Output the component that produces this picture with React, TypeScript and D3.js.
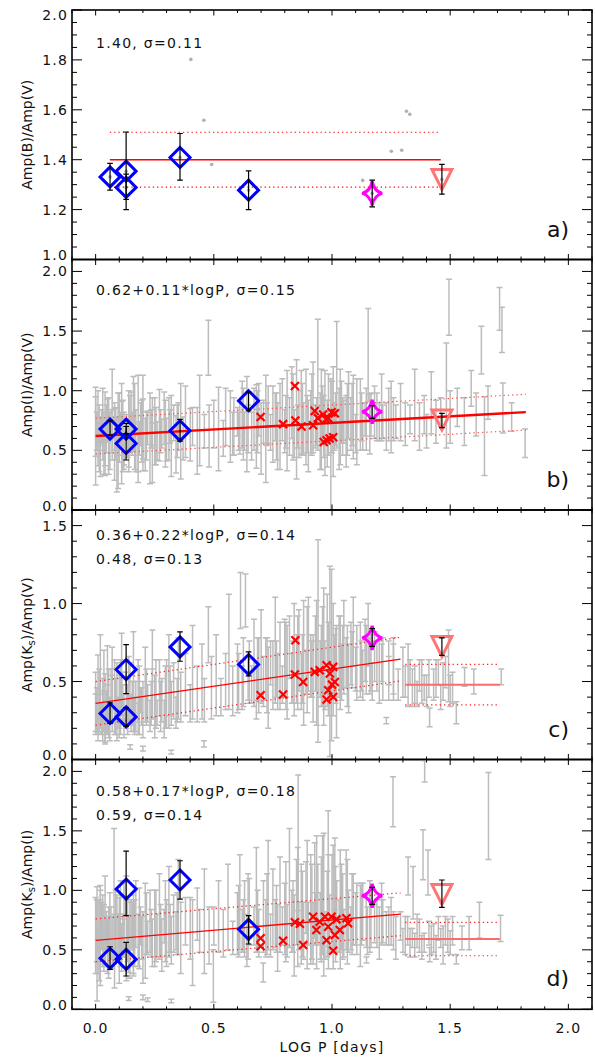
import React from 'react';
import * as d3 from 'd3';

// ---------- data ----------
const X_TICKS = [0, 0.5, 1.0, 1.5, 2.0];
const X_TITLE = 'LOG P [days]';

// panel a : Amp(B)/Amp(V)
const grayDotsBV: [number, number][] = [
  [0.061, 1.331], [0.129, 1.354], [0.129, 1.289], [0.357, 1.409], [0.647, 1.278],
  [0.403, 1.802], [0.458, 1.558], [0.491, 1.381], [1.13, 1.317], [1.251, 1.434],
  [1.295, 1.438], [1.315, 1.594], [1.329, 1.582], [1.17, 1.265], [1.465, 1.321],
];
const diamondsBV = [[0.061, 1.331, 1.278, 1.385], [0.129, 1.354, 1.2, 1.511], [0.129, 1.289, 1.241, 1.342], [0.357, 1.409, 1.318, 1.505], [0.647, 1.278, 1.2, 1.355]];
const starBV = [1.17, 1.265, 1.211, 1.318];
const triBV = [1.465, 1.321, 1.262, 1.381];

// panel b : Amp(I)/Amp(V)  [logP, value, error]
const grayIV: [number, number, number][] = [
  [0.00, 0.62, 0.41], [0.00, 0.70, 0.25], [0.01, 0.55, 0.18], [0.01, 0.78, 0.22], [0.02, 0.66, 0.12],
  [0.02, 0.48, 0.20], [0.03, 0.72, 0.30], [0.03, 0.60, 0.10], [0.04, 0.64, 0.35], [0.04, 0.52, 0.15],
  [0.05, 0.75, 0.18], [0.05, 0.68, 0.08], [0.06, 0.58, 0.24], [0.07, 0.80, 0.38], [0.07, 0.62, 0.14],
  [0.08, 0.55, 0.30], [0.08, 0.70, 0.20], [0.09, 0.45, 0.30], [0.09, 0.66, 0.12], [0.10, 0.72, 0.26],
  [0.10, 0.58, 0.18], [0.11, 0.64, 0.42], [0.11, 0.76, 0.15], [0.12, 0.60, 0.22], [0.12, 0.50, 0.16],
  [0.13, 0.70, 0.10], [0.14, 0.66, 0.34], [0.14, 0.56, 0.20], [0.15, 0.74, 0.25], [0.16, 0.62, 0.12],
  [0.16, 0.82, 0.30], [0.17, 0.58, 0.26], [0.18, 0.68, 0.45], [0.18, 0.52, 0.20], [0.19, 0.72, 0.18],
  [0.20, 0.63, 0.30], [0.20, 0.78, 0.35], [0.21, 0.55, 0.22], [0.22, 0.69, 0.14], [0.23, 0.60, 0.38],
  [0.24, 0.74, 0.20], [0.24, 0.48, 0.25], [0.25, 0.66, 0.28], [0.26, 0.58, 0.16], [0.27, 0.71, 0.30],
  [0.28, 0.64, 0.12], [0.29, 0.77, 0.22], [0.30, 0.59, 0.18], [0.31, 0.68, 0.26], [0.32, 0.62, 0.34],
  [0.33, 0.73, 0.15], [0.34, 0.55, 0.24], [0.35, 0.70, 0.20], [0.36, 0.66, 0.40], [0.37, 0.60, 0.18],
  [0.38, 0.74, 0.30], [0.40, 0.63, 0.22], [0.41, 0.70, 0.16], [0.43, 0.58, 0.28], [0.44, 0.75, 0.38],
  [0.46, 0.66, 0.14], [0.477, 1.36, 0.23], [0.48, 0.62, 0.26], [0.50, 0.72, 0.20], [0.52, 0.68, 0.35],
  [0.54, 0.60, 0.15], [0.55, 0.78, 0.24], [0.57, 0.70, 0.30], [0.58, 0.64, 0.18], [0.60, 0.74, 0.12],
  [0.61, 0.69, 0.22], [0.62, 0.80, 0.28], [0.63, 0.66, 0.16], [0.64, 0.72, 0.40], [0.66, 0.62, 0.20],
  [0.67, 0.76, 0.26], [0.68, 0.70, 0.35], [0.69, 0.84, 0.22], [0.70, 0.60, 0.30], [0.71, 0.74, 0.18],
  [0.72, 0.68, 0.45], [0.73, 0.80, 0.24], [0.74, 0.65, 0.15], [0.75, 0.72, 0.32], [0.76, 0.78, 0.20],
  [0.77, 0.62, 0.28], [0.78, 0.70, 0.36], [0.79, 0.84, 0.26], [0.80, 0.66, 0.18], [0.81, 0.75, 0.42],
  [0.82, 0.70, 0.24], [0.83, 0.90, 0.30], [0.84, 0.64, 0.20], [0.85, 0.76, 0.50], [0.86, 0.72, 0.28],
  [0.87, 0.82, 0.35], [0.88, 0.68, 0.22], [0.89, 0.78, 0.40], [0.90, 0.62, 0.30], [0.91, 0.74, 0.26],
  [0.92, 0.86, 0.38], [0.93, 0.70, 0.18], [0.94, 1.05, 0.55], [0.95, 0.66, 0.32], [0.96, 0.80, 0.24],
  [0.97, 0.73, 0.44], [0.98, 0.64, 0.28], [0.995, 0.55, 0.55], [1.00, 0.78, 0.30], [1.01, 0.70, 0.20],
  [1.02, 1.05, 0.53], [1.03, 0.68, 0.34], [1.04, 0.82, 0.26], [1.05, 0.74, 0.18], [1.06, 0.66, 0.30],
  [1.07, 0.88, 0.28], [1.08, 0.72, 0.22], [1.09, 0.78, 0.35], [1.10, 0.64, 0.16], [1.12, 0.80, 0.30],
  [1.13, 0.70, 0.20], [1.14, 0.76, 0.14], [1.153, 1.30, 0.39], [1.16, 0.72, 0.25], [1.18, 0.82, 0.22],
  [1.20, 0.74, 0.16], [1.21, 0.86, 0.28], [1.23, 0.70, 0.20], [1.25, 0.78, 0.30], [1.27, 0.74, 0.14],
  [1.29, 0.82, 0.24], [1.31, 0.72, 0.18], [1.33, 0.76, 0.12], [1.35, 0.88, 0.30], [1.37, 0.70, 0.20],
  [1.39, 0.80, 0.16], [1.40, 0.66, 0.14], [1.42, 0.90, 0.26], [1.44, 0.74, 0.18], [1.46, 0.82, 0.12],
  [1.484, 0.96, 0.44], [1.495, 1.70, 0.235], [1.50, 0.78, 0.22], [1.53, 0.86, 0.16], [1.56, 0.74, 0.20],
  [1.589, 1.02, 0.15], [1.61, 0.80, 0.18], [1.632, 1.34, 0.20], [1.645, 0.62, 0.33], [1.66, 0.90, 0.14],
  [1.709, 1.686, 0.18], [1.719, 1.51, 0.19], [1.723, 0.855, 0.21], [1.76, 0.78, 0.12], [1.817, 0.56, 0.12],
  [0.005, 0.66, 0.16], [0.015, 0.60, 0.28], [0.025, 0.70, 0.14], [0.035, 0.56, 0.26], [0.045, 0.68, 0.20],
  [0.055, 0.62, 0.32], [0.065, 0.72, 0.12], [0.085, 0.64, 0.22], [0.095, 0.58, 0.40], [0.105, 0.68, 0.14],
  [0.115, 0.62, 0.30], [0.135, 0.60, 0.16], [0.145, 0.72, 0.24], [0.155, 0.64, 0.18], [0.165, 0.70, 0.36],
  [0.185, 0.60, 0.14], [0.195, 0.66, 0.26], [0.215, 0.62, 0.20], [0.235, 0.68, 0.16], [0.255, 0.62, 0.24],
  [0.275, 0.66, 0.18], [0.295, 0.64, 0.28], [0.315, 0.70, 0.14], [0.345, 0.66, 0.22], [0.585, 0.70, 0.24],
  [0.605, 0.66, 0.16], [0.625, 0.72, 0.30], [0.645, 0.68, 0.20], [0.685, 0.74, 0.26], [0.725, 0.72, 0.18],
  [0.765, 0.70, 0.28], [0.805, 0.74, 0.22], [0.835, 0.78, 0.36], [0.855, 0.70, 0.18], [0.875, 0.76, 0.30],
  [0.895, 0.72, 0.24], [0.915, 0.80, 0.34], [0.935, 0.74, 0.20], [0.955, 0.76, 0.42], [0.965, 0.70, 0.26],
  [0.985, 0.80, 0.34], [1.005, 0.74, 0.46], [1.015, 0.76, 0.22], [1.035, 0.78, 0.40], [1.045, 0.70, 0.24],
  [1.065, 0.76, 0.30], [1.085, 0.80, 0.26], [1.105, 0.74, 0.36], [1.125, 0.78, 0.20], [1.145, 0.76, 0.26],
  [1.165, 0.80, 0.18], [1.19, 0.78, 0.20], [1.215, 0.74, 0.14], [1.24, 0.80, 0.22], [1.26, 0.76, 0.18],
];
const crossesIV: [number, number][] = [
  [0.698, 0.78], [0.793, 0.72], [0.843, 1.04], [0.845, 0.75], [0.871, 0.70], [0.92, 0.71], [0.927, 0.83],
  [0.94, 0.77], [0.962, 0.80], [0.975, 0.76], [0.984, 0.77], [0.998, 0.82], [1.012, 0.81], [0.977, 0.585],
  [0.99, 0.60], [1.005, 0.61], [0.965, 0.57],
];
const diamondsIV = [[0.061, 0.678, 0.628, 0.748], [0.129, 0.678, 0.64, 0.726], [0.129, 0.558, 0.419, 0.70], [0.357, 0.664, 0.578, 0.76], [0.647, 0.916, 0.832, 0.991]];
const starIV = [1.17, 0.823, 0.768, 0.874];
const triIV = [1.465, 0.755, 0.69, 0.81];

// panel c : Amp(Ks)/Amp(V)
const grayKV: [number, number, number][] = [
  [0.00, 0.36, 0.20], [0.00, 0.30, 0.12], [0.01, 0.42, 0.25], [0.01, 0.22, 0.10], [0.02, 0.34, 0.08],
  [0.02, 0.50, 0.30], [0.03, 0.28, 0.16], [0.03, 0.40, 0.12], [0.04, 0.33, 0.22], [0.04, 0.18, 0.08],
  [0.05, 0.38, 0.10], [0.05, 0.45, 0.28], [0.06, 0.26, 0.14], [0.07, 0.36, 0.18], [0.07, 0.52, 0.20],
  [0.08, 0.30, 0.06], [0.08, 0.40, 0.24], [0.09, 0.24, 0.12], [0.09, 0.46, 0.16], [0.10, 0.34, 0.20],
  [0.10, 0.28, 0.08], [0.11, 0.42, 0.14], [0.11, 0.55, 0.26], [0.12, 0.32, 0.10], [0.12, 0.20, 0.06],
  [0.13, 0.38, 0.18], [0.14, 0.44, 0.22], [0.146, 0.08, 0.015], [0.15, 0.30, 0.12], [0.16, 0.40, 0.10],
  [0.16, 0.50, 0.32], [0.17, 0.34, 0.16], [0.18, 0.26, 0.10], [0.18, 0.44, 0.20], [0.19, 0.38, 0.08],
  [0.20, 0.07, 0.015], [0.20, 0.32, 0.18], [0.21, 0.48, 0.24], [0.22, 0.36, 0.12], [0.23, 0.28, 0.10],
  [0.24, 0.42, 0.16], [0.24, 0.55, 0.28], [0.25, 0.34, 0.20], [0.26, 0.30, 0.08], [0.27, 0.46, 0.18],
  [0.28, 0.38, 0.14], [0.29, 0.26, 0.12], [0.30, 0.42, 0.22], [0.31, 0.50, 0.30], [0.32, 0.047, 0.012],
  [0.32, 0.36, 0.14], [0.33, 0.44, 0.18], [0.34, 0.30, 0.10], [0.35, 0.52, 0.26], [0.36, 0.40, 0.16],
  [0.38, 0.48, 0.20], [0.40, 0.36, 0.12], [0.41, 0.56, 0.30], [0.43, 0.42, 0.18], [0.45, 0.50, 0.24],
  [0.458, 0.10, 0.02], [0.46, 0.38, 0.14], [0.477, 0.80, 0.18], [0.49, 0.46, 0.20], [0.51, 0.54, 0.26],
  [0.53, 0.40, 0.12], [0.55, 0.50, 0.18], [0.564, 0.69, 0.37], [0.58, 0.44, 0.16], [0.60, 0.52, 0.22],
  [0.613, 1.02, 0.18], [0.62, 0.46, 0.14], [0.634, 1.02, 0.17], [0.65, 0.56, 0.20], [0.66, 0.48, 0.12],
  [0.67, 0.62, 0.28], [0.68, 0.44, 0.18], [0.69, 0.54, 0.24], [0.70, 0.66, 0.30], [0.71, 0.50, 0.16],
  [0.72, 0.58, 0.20], [0.73, 0.46, 0.26], [0.74, 0.62, 0.14], [0.75, 0.54, 0.22], [0.76, 0.70, 0.34],
  [0.77, 0.50, 0.18], [0.78, 0.60, 0.28], [0.79, 0.48, 0.12], [0.80, 0.66, 0.24], [0.81, 0.56, 0.30],
  [0.82, 0.72, 0.20], [0.83, 0.52, 0.16], [0.84, 0.64, 0.36], [0.85, 0.58, 0.22], [0.86, 0.70, 0.26],
  [0.87, 0.50, 0.18], [0.88, 0.62, 0.40], [0.89, 0.56, 0.14], [0.90, 0.74, 0.30], [0.91, 0.60, 0.20],
  [0.92, 0.52, 0.28], [0.93, 0.68, 0.24], [0.941, 0.76, 0.65], [0.95, 0.58, 0.18], [0.96, 0.66, 0.32],
  [0.97, 0.54, 0.22], [0.98, 0.70, 0.36], [0.991, 0.63, 0.61], [0.998, 0.67, 0.55], [1.01, 0.60, 0.20],
  [1.019, 0.50, 0.36], [1.03, 0.66, 0.26], [1.04, 0.56, 0.18], [1.05, 0.72, 0.30], [1.06, 0.62, 0.16],
  [1.07, 0.52, 0.22], [1.08, 0.68, 0.20], [1.09, 0.82, 0.22], [1.10, 0.58, 0.14], [1.12, 0.64, 0.24],
  [1.13, 0.54, 0.16], [1.14, 0.70, 0.20], [1.153, 0.80, 0.20], [1.16, 0.60, 0.18], [1.17, 0.50, 0.12],
  [1.18, 0.66, 0.16], [1.20, 0.56, 0.20], [1.21, 0.62, 0.12], [1.23, 0.25, 0.02], [1.24, 0.52, 0.14],
  [1.26, 0.60, 0.18], [1.28, 0.48, 0.10], [1.30, 0.56, 0.16], [1.322, 0.54, 0.20], [1.34, 0.46, 0.12],
  [1.36, 0.42, 0.08], [1.38, 0.50, 0.14], [1.40, 0.44, 0.10], [1.413, 0.27, 0.06], [1.44, 0.52, 0.12],
  [1.46, 0.40, 0.08], [1.48, 0.56, 0.10], [1.493, 0.60, 0.23], [1.51, 0.46, 0.10], [1.526, 0.30, 0.07],
  [1.561, 0.53, 0.06], [1.60, 0.50, 0.08], [1.716, 0.53, 0.05],
  [0.005, 0.32, 0.14], [0.015, 0.38, 0.20], [0.025, 0.26, 0.10], [0.035, 0.44, 0.26], [0.045, 0.30, 0.14],
  [0.055, 0.36, 0.22], [0.065, 0.42, 0.16], [0.085, 0.34, 0.18], [0.095, 0.30, 0.10], [0.105, 0.40, 0.24],
  [0.115, 0.36, 0.12], [0.135, 0.32, 0.16], [0.145, 0.42, 0.20], [0.155, 0.36, 0.14], [0.165, 0.28, 0.12],
  [0.185, 0.38, 0.22], [0.195, 0.34, 0.12], [0.215, 0.40, 0.18], [0.235, 0.36, 0.14], [0.255, 0.42, 0.22],
  [0.275, 0.34, 0.16], [0.295, 0.40, 0.20], [0.315, 0.44, 0.16], [0.345, 0.38, 0.14], [0.605, 0.50, 0.18],
  [0.625, 0.56, 0.22], [0.645, 0.52, 0.14], [0.685, 0.58, 0.20], [0.725, 0.54, 0.24], [0.765, 0.58, 0.18],
  [0.805, 0.60, 0.28], [0.835, 0.56, 0.20], [0.855, 0.62, 0.30], [0.875, 0.58, 0.22], [0.895, 0.64, 0.34],
  [0.915, 0.58, 0.18], [0.935, 0.62, 0.40], [0.955, 0.60, 0.26], [0.965, 0.66, 0.44], [0.985, 0.58, 0.30],
  [1.005, 0.64, 0.36], [1.015, 0.60, 0.24], [1.035, 0.62, 0.30], [1.045, 0.66, 0.20], [1.065, 0.60, 0.26],
  [1.085, 0.64, 0.18], [1.105, 0.62, 0.24], [1.125, 0.60, 0.16], [1.145, 0.64, 0.22], [1.165, 0.62, 0.18],
  [1.19, 0.60, 0.16], [1.215, 0.58, 0.20], [1.24, 0.62, 0.14], [1.26, 0.56, 0.18], [1.31, 0.50, 0.10],
  [1.33, 0.56, 0.08], [1.35, 0.48, 0.12], [1.37, 0.54, 0.10], [1.39, 0.46, 0.08], [1.41, 0.52, 0.12],
  [1.43, 0.48, 0.10], [1.45, 0.56, 0.08], [1.47, 0.50, 0.12], [1.50, 0.44, 0.10],
];
const crossesKV: [number, number][] = [
  [0.698, 0.412], [0.793, 0.417], [0.845, 0.765], [0.843, 0.545], [0.878, 0.497], [0.927, 0.562],
  [0.948, 0.572], [0.977, 0.604], [1.005, 0.594], [0.991, 0.551], [1.012, 0.497], [0.984, 0.444],
  [0.977, 0.385], [1.005, 0.401], [1.0, 0.48],
];
const diamondsKV = [[0.061, 0.295, 0.231, 0.363], [0.129, 0.577, 0.423, 0.737], [0.129, 0.273, 0.213, 0.333], [0.357, 0.722, 0.63, 0.818], [0.647, 0.609, 0.536, 0.69]];
const starKV = [1.17, 0.78, 0.726, 0.84];
const triKV = [1.465, 0.724, 0.668, 0.78];

// panel d : Amp(Ks)/Amp(I)
const grayKI: [number, number, number][] = [
  [0.00, 0.62, 0.32], [0.006, 0.55, 0.48], [0.01, 0.70, 0.22], [0.01, 0.48, 0.18], [0.02, 0.60, 0.40],
  [0.02, 0.78, 0.26], [0.03, 0.52, 0.14], [0.03, 0.66, 0.30], [0.04, 0.58, 0.20], [0.04, 0.74, 0.38],
  [0.05, 0.46, 0.16], [0.05, 0.64, 0.12], [0.06, 0.70, 0.28], [0.07, 0.56, 0.22], [0.078, 0.95, 0.57],
  [0.08, 0.62, 0.18], [0.08, 0.48, 0.30], [0.09, 0.72, 0.24], [0.10, 0.58, 0.36], [0.10, 0.66, 0.14],
  [0.11, 0.52, 0.20], [0.12, 0.76, 0.30], [0.12, 0.60, 0.16], [0.13, 0.68, 0.44], [0.14, 0.09, 0.015],
  [0.14, 0.55, 0.24], [0.15, 0.72, 0.20], [0.16, 0.62, 0.34], [0.16, 0.48, 0.18], [0.17, 0.80, 0.28],
  [0.18, 0.58, 0.22], [0.19, 0.70, 0.16], [0.20, 0.10, 0.02], [0.20, 0.52, 0.30], [0.21, 0.66, 0.40],
  [0.22, 0.60, 0.14], [0.22, 0.08, 0.015], [0.23, 0.74, 0.26], [0.24, 0.56, 0.20], [0.25, 0.68, 0.32],
  [0.26, 0.62, 0.18], [0.27, 0.78, 0.36], [0.28, 0.54, 0.22], [0.29, 0.70, 0.14], [0.30, 0.64, 0.28],
  [0.31, 0.82, 0.38], [0.32, 0.07, 0.015], [0.32, 0.58, 0.20], [0.33, 0.72, 0.24], [0.34, 0.66, 0.16],
  [0.35, 0.86, 0.40], [0.36, 0.60, 0.30], [0.38, 0.74, 0.20], [0.40, 0.68, 0.26], [0.41, 0.56, 0.36],
  [0.43, 0.80, 0.22], [0.44, 0.66, 0.18], [0.46, 0.74, 0.44], [0.48, 0.62, 0.24], [0.498, 0.28, 0.22],
  [0.50, 0.70, 0.16], [0.52, 0.78, 0.30], [0.54, 0.64, 0.20], [0.56, 0.86, 0.36], [0.58, 0.60, 0.14],
  [0.60, 0.72, 0.26], [0.61, 0.90, 0.40], [0.62, 0.66, 0.18], [0.63, 0.76, 0.32], [0.64, 0.58, 0.22],
  [0.65, 0.82, 0.28], [0.67, 0.70, 0.16], [0.68, 0.92, 0.44], [0.69, 0.64, 0.20], [0.709, 0.31, 0.08],
  [0.71, 0.78, 0.30], [0.72, 0.68, 0.24], [0.73, 0.96, 0.46], [0.74, 0.62, 0.18], [0.75, 0.84, 0.34],
  [0.76, 0.72, 0.20], [0.77, 0.60, 0.28], [0.78, 0.88, 0.40], [0.79, 0.70, 0.16], [0.80, 0.76, 0.30],
  [0.81, 0.66, 0.22], [0.82, 1.02, 0.50], [0.83, 0.74, 0.26], [0.84, 0.62, 0.34], [0.85, 0.90, 0.36],
  [0.857, 1.40, 0.57], [0.86, 0.70, 0.20], [0.87, 0.80, 0.42], [0.88, 0.66, 0.24], [0.89, 0.94, 0.30],
  [0.90, 0.72, 0.18], [0.91, 0.84, 0.46], [0.92, 0.64, 0.26], [0.927, 1.00, 0.40], [0.93, 0.76, 0.22],
  [0.94, 0.88, 0.34], [0.95, 0.70, 0.28], [0.96, 0.96, 0.50], [0.97, 0.62, 0.20], [0.98, 0.80, 0.36],
  [0.984, 1.10, 0.57], [0.99, 0.72, 0.24], [1.00, 0.90, 0.40], [1.01, 0.66, 0.18], [1.012, 0.98, 0.46],
  [1.02, 0.78, 0.30], [1.03, 0.70, 0.22], [1.04, 0.86, 0.36], [1.05, 0.64, 0.20], [1.06, 0.92, 0.42],
  [1.07, 0.74, 0.26], [1.08, 0.68, 0.18], [1.09, 0.84, 0.30], [1.10, 0.76, 0.22], [1.12, 0.70, 0.34],
  [1.13, 0.82, 0.24], [1.146, 0.415, 0.025], [1.15, 0.66, 0.20], [1.16, 0.78, 0.30], [1.18, 0.72, 0.16],
  [1.20, 0.64, 0.22], [1.21, 0.80, 0.26], [1.23, 0.68, 0.14], [1.25, 0.74, 0.20], [1.258, 1.745, 0.21],
  [1.27, 0.60, 0.18], [1.29, 0.70, 0.12], [1.31, 0.62, 0.16], [1.322, 1.12, 0.16], [1.33, 0.56, 0.12],
  [1.343, 0.98, 0.22], [1.36, 0.66, 0.14], [1.38, 0.52, 0.10], [1.385, 1.30, 0.21], [1.392, 2.00, 0.09],
  [1.406, 1.15, 0.19], [1.413, 0.46, 0.06], [1.43, 0.60, 0.12], [1.45, 0.68, 0.10], [1.47, 0.54, 0.16],
  [1.49, 0.62, 0.14], [1.51, 0.66, 0.12], [1.526, 0.42, 0.04], [1.55, 0.60, 0.10], [1.58, 0.64, 0.14],
  [1.624, 0.75, 0.15], [1.662, 1.625, 0.365], [1.713, 0.68, 0.11],
  [0.005, 0.66, 0.26], [0.015, 0.58, 0.34], [0.025, 0.70, 0.20], [0.035, 0.60, 0.28], [0.045, 0.66, 0.16],
  [0.055, 0.56, 0.30], [0.065, 0.64, 0.22], [0.085, 0.70, 0.30], [0.095, 0.60, 0.20], [0.105, 0.72, 0.36],
  [0.115, 0.62, 0.18], [0.135, 0.66, 0.26], [0.145, 0.58, 0.32], [0.155, 0.70, 0.20], [0.165, 0.64, 0.28],
  [0.185, 0.68, 0.34], [0.195, 0.60, 0.18], [0.215, 0.72, 0.26], [0.235, 0.64, 0.20], [0.255, 0.70, 0.30],
  [0.275, 0.66, 0.22], [0.295, 0.74, 0.34], [0.315, 0.68, 0.20], [0.345, 0.72, 0.26], [0.605, 0.74, 0.30],
  [0.625, 0.70, 0.22], [0.645, 0.78, 0.36], [0.685, 0.74, 0.26], [0.725, 0.80, 0.34], [0.765, 0.76, 0.28],
  [0.805, 0.82, 0.42], [0.835, 0.78, 0.30], [0.855, 0.86, 0.50], [0.875, 0.80, 0.36], [0.895, 0.88, 0.54],
  [0.915, 0.82, 0.40], [0.935, 0.90, 0.56], [0.955, 0.84, 0.44], [0.965, 0.88, 0.60], [0.985, 0.82, 0.48],
  [1.005, 0.86, 0.52], [1.015, 0.80, 0.40], [1.035, 0.84, 0.50], [1.045, 0.78, 0.36], [1.065, 0.82, 0.44],
  [1.085, 0.80, 0.34], [1.105, 0.76, 0.30], [1.125, 0.80, 0.26], [1.145, 0.74, 0.22], [1.165, 0.76, 0.24],
  [1.19, 0.72, 0.20], [1.215, 0.74, 0.18], [1.24, 0.70, 0.16], [1.26, 0.66, 0.16], [1.30, 0.58, 0.10],
  [1.32, 0.66, 0.12], [1.34, 0.60, 0.08], [1.35, 0.54, 0.10], [1.37, 0.62, 0.14], [1.39, 0.56, 0.08],
  [1.41, 0.64, 0.10], [1.42, 0.58, 0.12], [1.44, 0.52, 0.10], [1.46, 0.60, 0.08], [1.48, 0.66, 0.12],
  [1.50, 0.56, 0.10],
];
const crossesKI: [number, number][] = [
  [0.698, 0.597], [0.698, 0.53], [0.793, 0.576], [0.843, 0.731], [0.864, 0.72], [0.878, 0.54],
  [0.92, 0.778], [0.934, 0.666], [0.948, 0.736], [0.97, 0.778], [0.977, 0.58], [0.984, 0.694],
  [0.998, 0.778], [1.012, 0.624], [1.019, 0.756], [1.005, 0.492], [1.033, 0.666], [1.061, 0.765],
  [1.068, 0.723],
];
const diamondsKI = [[0.061, 0.429, 0.336, 0.526], [0.129, 1.011, 0.787, 1.33], [0.129, 0.42, 0.28, 0.563], [0.357, 1.087, 0.927, 1.249], [0.647, 0.672, 0.549, 0.787]];
const starKI = [1.17, 0.955, 0.882, 1.025];
const triKI = [1.465, 0.965, 0.857, 1.087];

// fits: [intercept, slope, sigma, xStart, xEnd]
const fitBV = [1.40, 0, 0.11, 0.06, 1.46];
const fitIV = [0.62, 0.11, 0.15, 0.0, 1.82];
const fitKV = [0.36, 0.22, 0.14, 0.0, 1.29];
const fitKVlong = [0.48, 0, 0.13, 1.31, 1.71];
const fitKI = [0.58, 0.17, 0.18, 0.0, 1.29];
const fitKIlong = [0.59, 0, 0.14, 1.31, 1.71];

// ---------- layout ----------
const W = 595;
const H = 1057;
const X0 = 72;
const X1 = 592;
const FONT = "'DejaVu Sans', sans-serif";
const xs = d3.scaleLinear().domain([-0.1, 2.1]).range([X0, X1]);

type Fit = { f: number[]; w: number; color: string; dotColor: string };
type Spec = {
  id: string; top: number; bottom: number; ymin: number; ymax: number; major: number; minor: number;
  label: React.ReactNode; letter: string; notes: string[]; noteY: number;
  gray: [number, number, number][]; dots: [number, number][]; fits: Fit[];
  crosses: [number, number][]; diamonds: number[][]; star: number[]; tri: number[];
};

const KS = (den: string) => (
  <>Amp(K<tspan dy={3} fontSize={10}>s</tspan><tspan dy={-3}>)/Amp({den})</tspan></>
);

const specs: Spec[] = [
  { id: 'a', top: 10, bottom: 259.5, ymin: 1.0, ymax: 2.0, major: 0.2, minor: 0.05, label: 'Amp(B)/Amp(V)', letter: 'a)',
    notes: ['1.40, \u03c3=0.11'], noteY: 48, gray: [], dots: grayDotsBV,
    fits: [{ f: fitBV, w: 1.5, color: '#ff0000', dotColor: '#ff0000' }],
    crosses: [], diamonds: diamondsBV, star: starBV, tri: triBV },
  { id: 'b', top: 259.5, bottom: 510, ymin: 0, ymax: 2.1, major: 0.5, minor: 0.1, label: 'Amp(I)/Amp(V)', letter: 'b)',
    notes: ['0.62+0.11*logP, \u03c3=0.15'], noteY: 295, gray: grayIV, dots: [],
    fits: [{ f: fitIV, w: 2.4, color: '#ff0000', dotColor: '#ff5050' }],
    crosses: crossesIV, diamonds: diamondsIV, star: starIV, tri: triIV },
  { id: 'c', top: 510, bottom: 759.5, ymin: 0, ymax: 1.6, major: 0.5, minor: 0.1, label: KS('V'), letter: 'c)',
    notes: ['0.36+0.22*logP, \u03c3=0.14', '0.48, \u03c3=0.13'], noteY: 540, gray: grayKV, dots: [],
    fits: [{ f: fitKV, w: 1.3, color: '#ff0000', dotColor: '#ff2020' }, { f: fitKVlong, w: 2, color: '#ff6a6a', dotColor: '#ff2020' }],
    crosses: crossesKV, diamonds: diamondsKV, star: starKV, tri: triKV },
  { id: 'd', top: 759.5, bottom: 1009.3, ymin: 0, ymax: 2.1, major: 0.5, minor: 0.1, label: KS('I'), letter: 'd)',
    notes: ['0.58+0.17*logP, \u03c3=0.18', '0.59, \u03c3=0.14'], noteY: 796, gray: grayKI, dots: [],
    fits: [{ f: fitKI, w: 1.3, color: '#ff0000', dotColor: '#ff2020' }, { f: fitKIlong, w: 2, color: '#ff6a6a', dotColor: '#ff2020' }],
    crosses: crossesKI, diamonds: diamondsKI, star: starKI, tri: triKI },
];

function stepTicks(min: number, max: number, step: number) {
  const n = Math.floor((max - min) / step + 1e-6);
  return d3.range(n + 1).map((i) => +(min + i * step).toFixed(4));
}

const GRAY = '#bcbcbc';

function ErrBar({ x, lo, hi, color, w, cap }: { x: number; lo: number; hi: number; color: string; w: number; cap: number }) {
  return (
    <g stroke={color} strokeWidth={w}>
      <line x1={x} x2={x} y1={lo} y2={hi} />
      <line x1={x - cap} x2={x + cap} y1={lo} y2={lo} />
      <line x1={x - cap} x2={x + cap} y1={hi} y2={hi} />
    </g>
  );
}

function Panel({ s }: { s: Spec }) {
  const ys = d3.scaleLinear().domain([s.ymin, s.ymax]).range([s.bottom, s.top]);
  const majors = stepTicks(s.ymin, s.ymax, s.major);
  const minors = stepTicks(s.ymin, s.ymax, s.minor);
  const xMinor = stepTicks(-0.1, 2.1, 0.1);
  const clipId = `clip-${s.id}`;
  const cy = (s.top + s.bottom) / 2;
  return (
    <g>
      <defs>
        <clipPath id={clipId}>
          <rect x={X0} y={s.top} width={X1 - X0} height={s.bottom - s.top} />
        </clipPath>
      </defs>
      <g clipPath={`url(#${clipId})`}>
        {s.gray.map(([px, v, e], i) => (
          <ErrBar key={i} x={xs(px)} lo={ys(v - e)} hi={ys(v + e)} color={GRAY} w={1.5} cap={3} />
        ))}
        {s.dots.map(([px, v], i) => (
          <circle key={i} cx={xs(px)} cy={ys(v)} r={1.8} fill="#b0b0b0" />
        ))}
        {s.fits.map((ft, i) => {
          const [a, b, sg, x0, x1] = ft.f;
          const seg = (off: number) => `M${xs(x0)},${ys(a + b * x0 + off)}L${xs(x1)},${ys(a + b * x1 + off)}`;
          return (
            <g key={i} fill="none">
              <path d={seg(sg)} stroke={ft.dotColor} strokeWidth={1.2} strokeDasharray="1.3,3" />
              <path d={seg(-sg)} stroke={ft.dotColor} strokeWidth={1.2} strokeDasharray="1.3,3" />
              <path d={seg(0)} stroke={ft.color} strokeWidth={ft.w} />
            </g>
          );
        })}
        {s.crosses.map(([px, v], i) => (
          <path key={i} transform={`translate(${xs(px)},${ys(v)})`} d="M-4,-4L4,4M-4,4L4,-4" stroke="#ff0000" strokeWidth={2.2} fill="none" />
        ))}
        {s.diamonds.map(([px, v], i) => (
          <path key={i} transform={`translate(${xs(px)},${ys(v)})`} d="M0,-10L10,0L0,10L-10,0Z" stroke="#0000ff" strokeWidth={3} fill="none" strokeLinejoin="miter" />
        ))}
        <path transform={`translate(${xs(s.star[0])},${ys(s.star[1])})`} d="M0,-12Q2,-2 10,0Q2,2 0,12Q-2,2 -10,0Q-2,-2 0,-12Z" stroke="#ff00ff" strokeWidth={3} fill="none" />
        <path transform={`translate(${xs(s.tri[0])},${ys(s.tri[1])})`} d="M-10,-10L10,-10L0,10Z" stroke="#ff7474" strokeWidth={3} fill="none" strokeLinejoin="miter" />
        {[...s.diamonds, s.star, s.tri].map(([px, , lo, hi], i) => (
          <ErrBar key={i} x={xs(px)} lo={ys(lo)} hi={ys(hi)} color="#000" w={1.2} cap={2.8} />
        ))}
      </g>
      <rect x={X0} y={s.top} width={X1 - X0} height={s.bottom - s.top} fill="none" stroke="#000" strokeWidth={1.6} />
      <g stroke="#000" strokeWidth={1}>
        {minors.map((v, i) => {
          const isMajor = majors.some((m) => Math.abs(m - v) < 1e-6);
          const len = isMajor ? 10 : 5;
          return (
            <g key={i}>
              <line x1={X0} x2={X0 + len} y1={ys(v)} y2={ys(v)} />
              <line x1={X1} x2={X1 - len} y1={ys(v)} y2={ys(v)} />
            </g>
          );
        })}
        {xMinor.map((v, i) => {
          const isMajor = X_TICKS.some((m) => Math.abs(m - v) < 1e-6);
          const len = isMajor ? 5.5 : 3;
          return (
            <g key={i}>
              <line x1={xs(v)} x2={xs(v)} y1={s.top} y2={s.top + len} />
              <line x1={xs(v)} x2={xs(v)} y1={s.bottom} y2={s.bottom - len} />
            </g>
          );
        })}
      </g>
      <g fontFamily={FONT} fontSize={14} fill="#111" letterSpacing={1.2}>
        {majors.map((v, i) => {
          let dy = 5;
          if (Math.abs(v - s.ymin) < 1e-6) dy = 0.5;
          else if (Math.abs(ys(v) - s.top) < 1) dy = 10;
          return (
            <text key={i} x={68} y={ys(v) + dy} textAnchor="end">{d3.format('.1f')(v)}</text>
          );
        })}
        {s.notes.map((t, i) => (
          <text key={i} x={96} y={s.noteY + i * 23.5} letterSpacing={1.3}>{t}</text>
        ))}
      </g>
      <text transform={`translate(27,${cy}) rotate(-90)`} textAnchor="middle" dy="0.35em" fontFamily={FONT} fontSize={14} fill="#111">{s.label}</text>
      <text x={569} y={s.bottom - 23} textAnchor="end" fontFamily={FONT} fontSize={22} fill="#111">{s.letter}</text>
    </g>
  );
}

export default function App() {
  const last = specs[specs.length - 1];
  return (
    <svg width={W} height={H} viewBox={`0 0 ${W} ${H}`} style={{ position: 'absolute', left: 0, top: 0, display: 'block', background: '#fff' }}>
      <rect x={0} y={0} width={W} height={H} fill="#fff" />
      {specs.map((s) => <Panel key={s.id} s={s} />)}
      <g fontFamily={FONT} fontSize={14} fill="#111" letterSpacing={1.2}>
        {X_TICKS.map((v, i) => (
          <text key={i} x={xs(v)} y={last.bottom + 24} textAnchor="middle">{d3.format('.1f')(v)}</text>
        ))}
        <text x={(X0 + X1) / 2} y={last.bottom + 43} textAnchor="middle">{X_TITLE}</text>
      </g>
    </svg>
  );
}
